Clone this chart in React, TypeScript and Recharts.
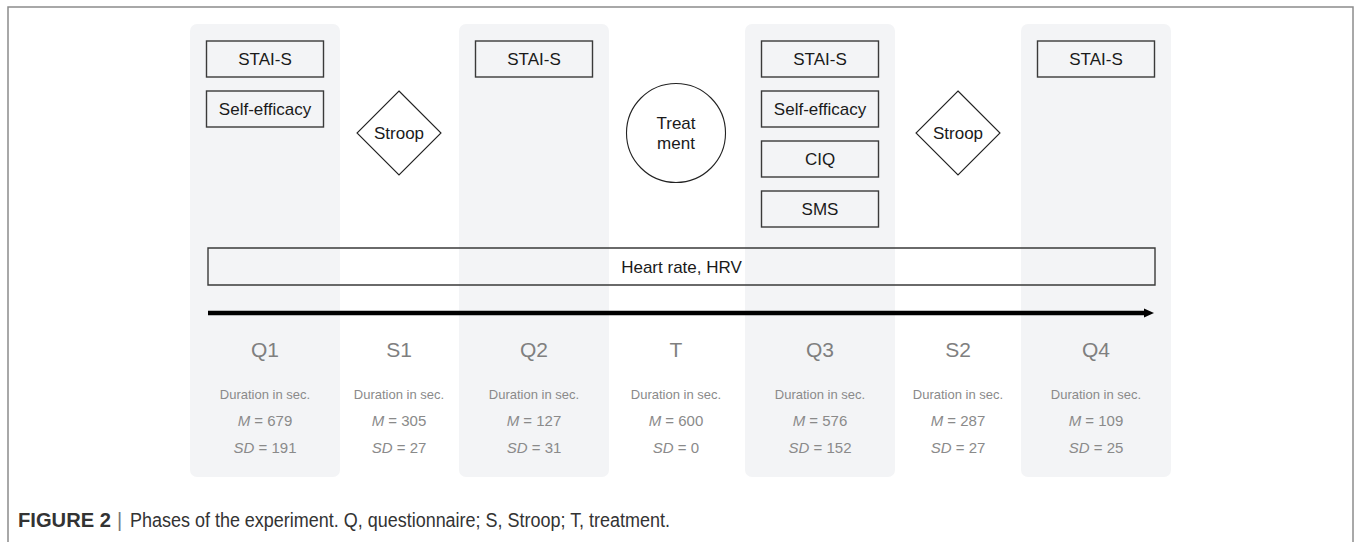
import React from "react";
import {
  ComposedChart,
  XAxis,
  YAxis,
  Scatter,
  ReferenceArea,
  ReferenceLine,
  Label,
} from "recharts";

const W = 1356;
const H = 542;
const FONT = "'Liberation Sans', Arial, Helvetica, sans-serif";

// phases of the experiment, left to right
const phases = ["Q1", "S1", "Q2", "T", "Q3", "S2", "Q4"];
const phaseX = [265, 399, 534, 676, 820, 958, 1096];
const meanSec = [679, 305, 127, 600, 576, 287, 109];
const sdSec = [191, 27, 31, 0, 152, 27, 25];

// questionnaires filled in during each phase
const instruments: string[][] = [
  ["STAI-S", "Self-efficacy"],
  [],
  ["STAI-S"],
  [],
  ["STAI-S", "Self-efficacy", "CIQ", "SMS"],
  [],
  ["STAI-S"],
];

// task shown in the non-questionnaire phases
const taskKind = ["", "diamond", "", "circle", "", "diamond", ""];
const taskLines: string[][] = [[], ["Stroop"], [], ["Treat", "ment"], [], ["Stroop"], []];

const continuousLabel = "Heart rate, HRV";

// layout rows (in the chart's y units)
const firstBoxY = 59;
const boxGap = 50;
const taskY = 133;
const labelY = 349;

const panelIdx = phases.map((p, i) => i).filter((i) => phases[i].startsWith("Q"));

const boxData = instruments.flatMap((list, i) =>
  list.map((name, k) => ({ x: phaseX[i], y: firstBoxY + boxGap * k, name }))
);
const taskData = taskKind
  .map((kind, i) => ({ x: phaseX[i], y: taskY, kind, lines: taskLines[i] }))
  .filter((d) => d.kind);
const labelData = phases.map((name, i) => ({
  x: phaseX[i],
  y: labelY,
  name,
  m: meanSec[i],
  sd: sdSec[i],
}));

function BoxShape(props: any) {
  const { cx, cy, payload } = props;
  return (
    <g>
      <rect x={cx - 58.5} y={cy - 18} width={117} height={36} fill="none" stroke="#3a3a3a" strokeWidth={1.4} />
      <text x={cx} y={cy + 6} textAnchor="middle" fontSize={17} fontFamily={FONT} fill="#1a1a1a">
        {payload.name}
      </text>
    </g>
  );
}

function TaskShape(props: any) {
  const { cx, cy, payload } = props;
  const lines: string[] = payload.lines;
  return (
    <g>
      {payload.kind === "diamond" ? (
        <polygon
          points={`${cx},${cy - 42} ${cx + 42},${cy} ${cx},${cy + 42} ${cx - 42},${cy}`}
          fill="none"
          stroke="#222"
          strokeWidth={1.1}
        />
      ) : (
        <circle cx={cx} cy={cy} r={49.5} fill="none" stroke="#222" strokeWidth={1.1} />
      )}
      {lines.map((t, k) => (
        <text
          key={k}
          x={cx}
          y={cy + 6 + (k - (lines.length - 1) / 2) * 20}
          textAnchor="middle"
          fontSize={17}
          fontFamily={FONT}
          fill="#1a1a1a"
        >
          {t}
        </text>
      ))}
    </g>
  );
}

function LabelShape(props: any) {
  const { cx, cy, payload } = props;
  return (
    <g fontFamily={FONT} textAnchor="middle">
      <text x={cx} y={cy + 8} fontSize={21} fill="#7f7f7f">
        {payload.name}
      </text>
      <text x={cx} y={cy + 50} fontSize={13} fill="#8a8a8a">
        Duration in sec.
      </text>
      <text x={cx} y={cy + 77} fontSize={15} fill="#8a8a8a">
        <tspan fontStyle="italic">M</tspan> = {payload.m}
      </text>
      <text x={cx} y={cy + 104} fontSize={15} fill="#8a8a8a">
        <tspan fontStyle="italic">SD</tspan> = {payload.sd}
      </text>
    </g>
  );
}

function ArrowShape(props: any) {
  const { x1, y1, x2, y2 } = props;
  return (
    <g>
      <line x1={x1} y1={y1} x2={x2 - 8} y2={y2} stroke="#000" strokeWidth={4.5} />
      <polygon points={`${x2},${y2} ${x2 - 10},${y2 - 4.5} ${x2 - 10},${y2 + 4.5}`} fill="#000" />
    </g>
  );
}

export default function App() {
  const span = [phaseX[0] - 57, phaseX[6] + 59];
  return (
    <div style={{ position: "absolute", left: 0, top: 0, width: W, height: H, overflow: "hidden", background: "#fff" }}>
      <svg width={W} height={H} style={{ position: "absolute", left: 0, top: 0 }}>
        <rect x={8} y={7} width={1345} height={640} fill="none" stroke="#8c8c8c" strokeWidth={1.5} />
        <text x={18} y={527} fontFamily={FONT} fontSize={20} fontWeight="bold" fill="#333" textLength={93} lengthAdjust="spacingAndGlyphs">
          FIGURE 2
        </text>
        <text x={117} y={527} fontFamily={FONT} fontSize={20} fill="#777">
          |
        </text>
        <text x={130} y={527} fontFamily={FONT} fontSize={20} fill="#333" textLength={540} lengthAdjust="spacingAndGlyphs">
          Phases of the experiment. Q, questionnaire; S, Stroop; T, treatment.
        </text>
      </svg>
      <div style={{ position: "absolute", left: 0, top: 0 }}>
        <ComposedChart width={W} height={H} margin={{ top: 0, right: 0, bottom: 0, left: 0 }}>
          <XAxis type="number" dataKey="x" domain={[0, W]} hide allowDataOverflow />
          <YAxis type="number" dataKey="y" domain={[0, H]} reversed hide allowDataOverflow />
          {panelIdx.map((i) => (
            <ReferenceArea
              key={phases[i]}
              x1={phaseX[i] - 75}
              x2={phaseX[i] + 75}
              y1={24}
              y2={477}
              ifOverflow="visible"
              shape={(p: any) => (
                <rect x={p.x} y={p.y} width={p.width} height={p.height} rx={7} ry={7} fill="#f3f4f6" />
              )}
            />
          ))}
          <ReferenceArea
            x1={span[0]}
            x2={span[1]}
            y1={248}
            y2={285}
            fill="none"
            fillOpacity={0}
            stroke="#3a3a3a"
            strokeWidth={1.4}
            ifOverflow="visible"
          >
            <Label value={continuousLabel} position="center" fontSize={17} fontFamily={FONT} fill="#1a1a1a" />
          </ReferenceArea>
          <ReferenceLine
            segment={[
              { x: span[0], y: 313 },
              { x: span[1] - 1, y: 313 },
            ]}
            ifOverflow="visible"
            shape={ArrowShape}
          />
          <Scatter data={boxData} dataKey="y" shape={BoxShape} isAnimationActive={false} />
          <Scatter data={taskData} dataKey="y" shape={TaskShape} isAnimationActive={false} />
          <Scatter data={labelData} dataKey="y" shape={LabelShape} isAnimationActive={false} />
        </ComposedChart>
      </div>
    </div>
  );
}
